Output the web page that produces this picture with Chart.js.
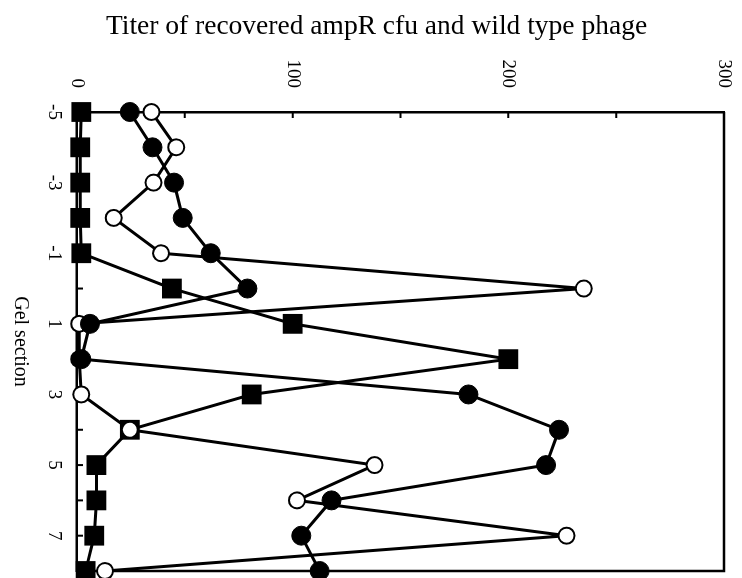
<!DOCTYPE html>
<html><head><meta charset="utf-8">
<script src="https://cdn.jsdelivr.net/npm/chart.js@4/dist/chart.umd.min.js"></script>
<style>
html,body{margin:0;padding:0;background:#fff;overflow:hidden;width:742px;height:578px;}
#wrap{position:absolute;left:0;top:0;width:578px;height:742px;transform-origin:0 0;transform:translate(742px,0) rotate(90deg);}
</style></head><body>
<div id="wrap"><canvas id="c" width="578" height="742"></canvas></div>
<script>
// Gel sections (category positions)
const gelSections = [-5,-4,-3,-2,-1,0,1,2,3,4,5,6,7,8];
// Series values
const filledSquares = [2,1.5,1.5,1.5,2,44,100,200,81,24.5,9,9,8,4];
const filledCircles = [24.5,35,45,49,62,79,6,2,181.5,223.5,217.5,118,104,112.5];
const openCircles   = [34.5,46,35.5,17,39,235,1,1,2,24.5,138,102,227,13];
// Tick labels
const valueTickLabels = [0,100,200,300];
const gelTickLabels = [-5,-3,-1,1,3,5,7];

const toPts = vals => gelSections.map((g,i)=>({x:g,y:vals[i]}));

// closes the box and draws inward tick marks
const frame = {
  id:'frame',
  beforeDatasetsDraw(chart){
    const {ctx, chartArea:a, scales:{x,y}} = chart;
    ctx.save(); ctx.strokeStyle='#000'; ctx.lineWidth=2.5;
    ctx.beginPath(); ctx.moveTo(a.left,a.top); ctx.lineTo(a.right,a.top); ctx.lineTo(a.right,a.bottom); ctx.stroke();
    ctx.lineWidth=2; ctx.beginPath();
    y.ticks.forEach(t=>{const p=y.getPixelForValue(t.value); ctx.moveTo(a.left,p); ctx.lineTo(a.left+6,p);});
    x.ticks.forEach(t=>{const p=x.getPixelForValue(t.value); ctx.moveTo(p,a.bottom); ctx.lineTo(p,a.bottom-6);});
    ctx.stroke(); ctx.restore();
  }
};

const serif = 'Liberation Serif';
new Chart(document.getElementById('c'),{
  type:'scatter',
  data:{datasets:[
    {label:'filled circles',data:toPts(filledCircles),showLine:true,borderColor:'#000',borderWidth:3,borderJoinStyle:'round',
     pointStyle:'circle',pointRadius:9.5,pointBackgroundColor:'#000',pointBorderColor:'#000',pointBorderWidth:1,order:1,clip:false},
    {label:'open circles',data:toPts(openCircles),showLine:true,borderColor:'#000',borderWidth:3,borderJoinStyle:'round',
     pointStyle:'circle',pointRadius:8,pointBackgroundColor:'#fff',pointBorderColor:'#000',pointBorderWidth:2,order:2,clip:false},
    {label:'filled squares',data:toPts(filledSquares),showLine:true,borderColor:'#000',borderWidth:3,borderJoinStyle:'round',
     pointStyle:'rect',pointRadius:14,pointBackgroundColor:'#000',pointBorderColor:'#000',pointBorderWidth:0,order:3,clip:false}
  ]},
  options:{
    responsive:false,animation:false,devicePixelRatio:1,
    layout:{autoPadding:false,padding:{left:0,right:7,top:0,bottom:11}},
    plugins:{legend:{display:false},tooltip:{enabled:false},
      title:{display:true,position:'left',fullSize:true,text:'Titer of recovered ampR cfu and wild type phage',
        color:'#000',font:{family:serif,size:27.5,weight:'normal'},padding:{top:10,bottom:0}}},
    elements:{line:{tension:0}},
    scales:{
      x:{type:'linear',position:'bottom',min:-5,max:8,
        grid:{display:false,drawTicks:true,tickLength:12},
        border:{display:true,color:'#000',width:2.5},
        ticks:{stepSize:1,autoSkip:false,maxRotation:0,color:'#000',padding:0,font:{family:serif,size:19},
          callback:v=>gelTickLabels.includes(v)?String(v):''},
        title:{display:true,text:'Gel section',color:'#000',font:{family:serif,size:20,lineHeight:0.9},padding:{top:0,bottom:0}},
        afterFit:s=>{s.height=66;s.paddingLeft=0;s.paddingRight=0;}},
      xTop:{type:'linear',position:'top',min:-5,max:8,display:true,grid:{display:false,drawTicks:false},
        border:{display:false},ticks:{display:false,padding:0},
        afterFit:s=>{s.height=18;s.paddingLeft=0;s.paddingRight=0;}},
      y:{type:'linear',position:'left',min:0,max:300,grid:{display:false,drawTicks:false},
        border:{display:true,color:'#000',width:2.5},
        ticks:{stepSize:50,autoSkip:false,color:'#000',padding:24,font:{family:serif,size:19},
          callback:v=>valueTickLabels.includes(v)?String(v):''},
        afterFit:s=>{s.width=112-43;s.paddingTop=0;s.paddingBottom=0;}}
    }
  },
  plugins:[frame]
});
</script>
</body></html>
